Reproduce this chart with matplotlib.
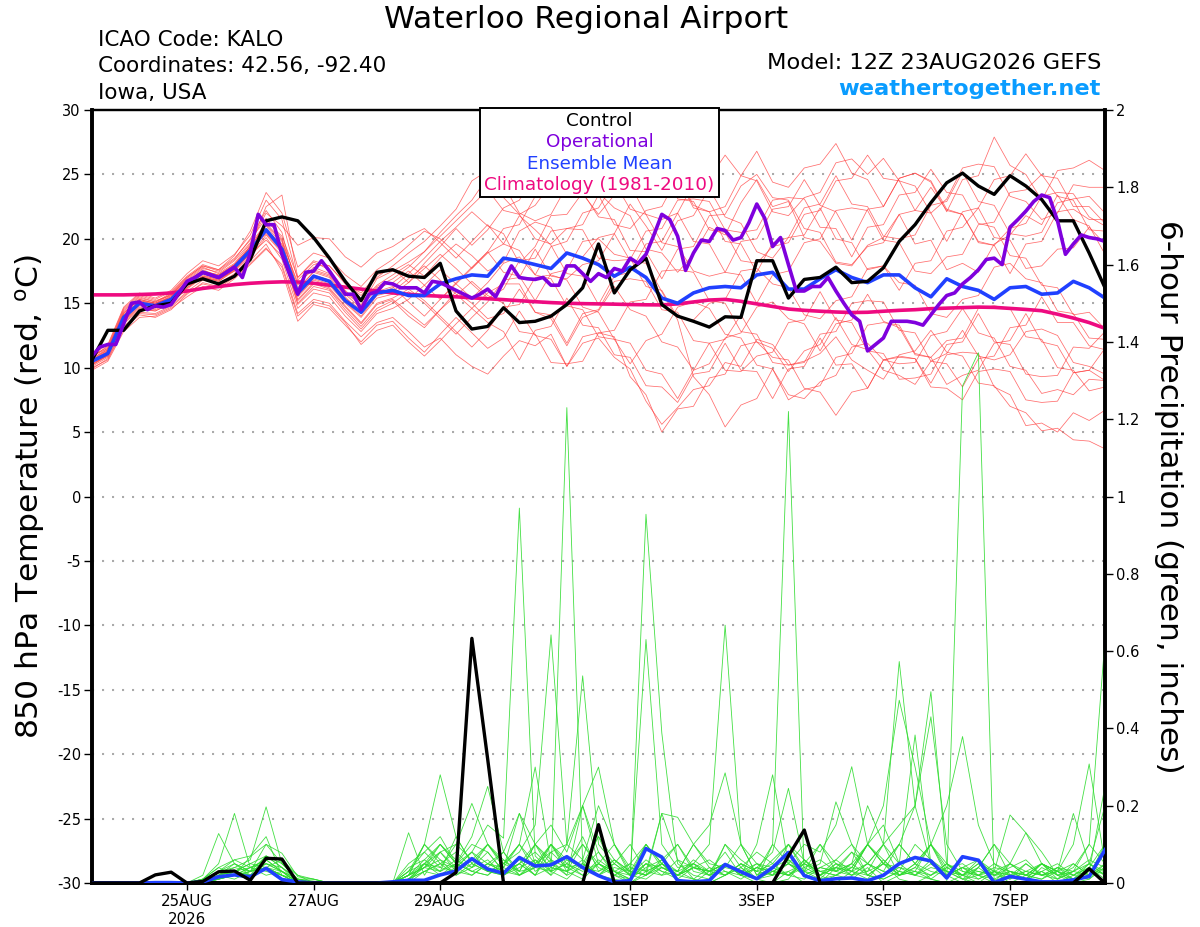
import numpy as np
import pandas as pd
import matplotlib
matplotlib.use("Agg")
import matplotlib.pyplot as plt
import matplotlib.dates as mdates
from matplotlib.patches import Rectangle

plt.rcParams['font.family'] = ['DejaVu Sans']
plt.rcParams['axes.unicode_minus'] = False

START = '2026-08-23 12:00'
END = '2026-09-08 12:00'

# ---------------- temperature (850 hPa, deg C), 6-hourly ----------------
control_temp = [10.6, 12.9, 12.9, 14.4, 14.8, 15.0, 16.5, 16.9, 16.5, 17.1, 18.4, 21.4, 21.7,
                21.4, 20.1, 18.5, 16.7, 15.2, 17.4, 17.6, 17.1, 17.0, 18.1, 14.4, 13.0, 13.2,
                14.65, 13.5, 13.6, 14.0, 14.9, 16.2, 19.6, 15.8, 17.6, 18.5, 14.9, 14.0, 13.6,
                13.15, 13.95, 13.9, 18.3, 18.3, 15.4, 16.85, 17.0, 17.8, 16.6, 16.7, 17.75, 19.8,
                21.1, 22.8, 24.35, 25.1, 24.1, 23.45, 24.9, 24.1, 23.05, 21.4, 21.4, 18.9, 16.2]

mean_temp = [10.5, 11.1, 13.9, 15.0, 14.8, 15.3, 16.5, 17.4, 17.0, 17.8, 19.1, 20.7, 19.2,
             15.8, 17.1, 16.7, 15.2, 14.3, 15.8, 16.0, 15.6, 15.6, 16.5, 16.9, 17.2, 17.1,
             18.5, 18.3, 18.0, 17.7, 18.9, 18.5, 18.0, 17.1, 17.8, 17.0, 15.4, 15.0, 15.8,
             16.2, 16.3, 16.2, 17.2, 17.4, 16.1, 16.1, 16.9, 17.6, 17.0, 16.6, 17.2, 17.2,
             16.2, 15.5, 16.9, 16.3, 16.0, 15.3, 16.2, 16.3, 15.7, 15.8, 16.7, 16.2, 15.4]

climo_temp = [15.65, 15.65, 15.65, 15.68, 15.72, 15.8, 15.95, 16.15, 16.3, 16.45, 16.55, 16.62, 16.66,
              16.65, 16.55, 16.4, 16.25, 16.1, 15.95, 15.8, 15.7, 15.6, 15.55, 15.5, 15.42, 15.35,
              15.28, 15.2, 15.12, 15.05, 15.0, 14.97, 14.95, 14.93, 14.9, 14.88, 14.87, 14.95, 15.1,
              15.25, 15.3, 15.15, 14.95, 14.75, 14.55, 14.45, 14.38, 14.32, 14.28, 14.3, 14.38, 14.45,
              14.5, 14.58, 14.62, 14.66, 14.7, 14.68, 14.6, 14.52, 14.42, 14.15, 13.85, 13.5, 13.05]

# operational run, 3-hourly
op_temp = [10.9, 11.6, 11.8, 11.8, 13.4, 15.0, 15.1, 14.5,
           14.8, 14.7, 14.9, 15.8, 16.7, 17.0, 17.4, 17.2,
           17.0, 17.4, 17.8, 17.0, 18.9, 21.9, 21.1, 21.1,
           18.8, 17.2, 15.7, 17.4, 17.5, 18.3, 17.5, 16.6,
           15.7, 15.7, 14.5, 15.7, 15.9, 16.6, 16.5, 16.2,
           16.2, 16.2, 15.8, 16.7, 16.6, 16.3, 16.0, 15.7,
           15.4, 15.7, 16.1, 15.5, 16.7, 17.9, 17.0, 16.9,
           16.85, 17.0, 16.4, 16.4, 17.9, 17.9, 17.3, 16.7,
           17.3, 17.0, 17.7, 17.5, 18.5, 18.1, 18.8, 20.3,
           21.9, 21.5, 20.2, 17.55, 18.9, 19.9, 19.8, 20.8,
           20.65, 19.9, 20.1, 21.25, 22.7, 21.6, 19.4, 20.1,
           18.0, 15.95, 15.95, 16.3, 16.3, 17.0, 15.95, 15.0,
           14.1, 13.6, 11.3, 11.8, 12.3, 13.6, 13.6, 13.6,
           13.5, 13.3, 14.1, 14.9, 15.6, 15.8, 16.5, 17.0,
           17.6, 18.4, 18.5, 18.0, 20.9, 21.5, 22.15, 22.9,
           23.4, 23.2, 21.4, 18.8, 19.6, 20.3, 20.1, 20.0,
           19.8]

# ensemble members (temperature)
t_m01 = [10.2, 11.0, 13.5, 14.6, 14.4, 15.0, 16.2, 17.0, 16.8, 17.6, 19.5, 22.5, 23.4,
         17.0, 18.2, 17.6, 16.0, 14.8, 16.9, 17.5, 18.2, 19.0, 20.5, 21.8, 23.0, 24.8,
         23.2, 21.9, 22.6, 24.3, 25.1, 26.3, 23.6, 22.4, 21.8, 19.2, 18.9, 17.4, 18.8,
         20.9, 20.3, 22.8, 24.6, 22.5, 22.9, 20.1, 19.8, 18.1, 17.9, 19.5, 20.1, 21.9,
         19.6, 19.9, 17.6, 18.1, 17.4, 19.6, 20.3, 21.8, 21.1, 23.4, 21.5, 21.0, 18.8]
t_m02 = [9.8, 10.5, 12.8, 13.9, 14.0, 14.6, 15.5, 16.3, 16.0, 16.9, 18.0, 19.2, 18.0,
         14.2, 15.3, 15.0, 13.6, 12.4, 13.5, 13.9, 12.8, 11.6, 12.3, 11.0, 10.1, 9.5,
         10.9, 12.1, 11.7, 12.6, 10.1, 11.9, 12.3, 10.8, 9.9, 7.4, 5.6, 6.9, 8.3,
         8.6, 10.4, 10.1, 12.2, 11.8, 10.2, 10.5, 11.1, 12.4, 10.6, 9.8, 9.1, 11.0,
         11.3, 12.9, 11.2, 10.9, 8.8, 8.6, 7.0, 6.5, 5.1, 5.3, 4.4, 4.3, 3.7]
t_m03 = [10.6, 11.4, 14.2, 15.4, 15.1, 15.8, 17.0, 17.9, 17.6, 18.5, 19.9, 21.6, 20.0,
         16.4, 17.8, 17.3, 15.9, 15.1, 16.4, 17.2, 18.0, 17.1, 18.5, 19.6, 18.7, 17.5,
         18.2, 20.6, 21.3, 20.9, 18.8, 18.6, 20.1, 20.4, 22.7, 21.0, 19.1, 21.4, 21.8,
         23.9, 21.7, 21.2, 19.0, 18.5, 20.1, 20.3, 22.4, 20.0, 19.7, 17.6, 17.9, 16.0,
         18.1, 18.3, 20.6, 20.9, 22.4, 20.1, 19.9, 17.7, 17.9, 19.2, 19.3, 20.9, 19.6]
t_m04 = [10.9, 11.6, 14.5, 15.6, 15.2, 15.6, 16.9, 17.8, 17.3, 18.1, 19.6, 21.2, 19.9,
         15.5, 16.8, 16.4, 15.0, 13.9, 15.4, 15.7, 16.6, 18.1, 19.4, 20.8, 19.5, 20.7,
         22.4, 23.0, 25.2, 26.5, 24.1, 23.5, 21.9, 23.4, 24.0, 26.2, 25.6, 24.9, 22.6,
         22.1, 22.5, 24.9, 26.8, 24.4, 24.0, 25.5, 25.8, 27.4, 25.1, 24.6, 22.5, 24.7,
         25.1, 24.4, 22.1, 24.6, 24.9, 27.9, 25.7, 25.0, 23.0, 25.3, 25.5, 26.1, 25.3]
t_m05 = [10.4, 11.2, 13.8, 15.1, 14.9, 15.5, 16.6, 17.5, 17.2, 18.0, 19.3, 20.4, 19.0,
         15.0, 16.3, 16.0, 14.5, 13.2, 14.6, 15.2, 14.0, 13.1, 14.5, 15.9, 15.0, 13.8,
         14.2, 16.1, 14.3, 13.8, 11.7, 13.9, 14.4, 16.3, 14.5, 14.0, 12.0, 11.6, 9.8,
         11.9, 12.2, 14.1, 12.0, 11.5, 9.7, 11.3, 11.8, 13.9, 11.8, 11.4, 9.8, 9.4,
         8.7, 10.5, 11.1, 12.9, 10.9, 10.6, 11.0, 12.8, 13.0, 12.5, 10.4, 10.1, 9.5]
t_m06 = [10.1, 10.8, 13.2, 14.3, 14.2, 14.8, 15.9, 16.8, 16.5, 17.3, 18.6, 20.1, 18.4,
         14.6, 15.8, 15.5, 14.0, 12.8, 14.2, 14.6, 15.3, 16.4, 17.6, 16.5, 15.4, 16.6,
         18.1, 18.6, 17.2, 16.9, 14.8, 14.5, 12.4, 12.2, 10.3, 12.1, 12.6, 14.7, 15.1,
         14.6, 12.6, 12.3, 10.2, 9.9, 7.9, 7.6, 8.9, 9.4, 11.6, 11.9, 10.6, 10.3,
         10.4, 12.5, 12.8, 14.6, 12.7, 12.3, 10.1, 9.8, 8.0, 8.3, 7.9, 9.1, 9.0]
t_m07 = [10.7, 11.5, 14.3, 15.3, 15.0, 15.7, 16.8, 17.7, 17.4, 18.3, 19.7, 22.0, 21.0,
         19.5, 20.1, 20.0, 18.6, 17.8, 18.9, 19.4, 20.2, 20.8, 19.7, 18.5, 19.8, 21.1,
         19.6, 19.1, 17.2, 19.4, 19.8, 22.0, 22.4, 24.4, 22.3, 21.9, 19.7, 19.4, 17.5,
         17.1, 17.4, 19.8, 20.0, 22.3, 22.5, 24.6, 22.6, 22.1, 19.9, 22.3, 22.5, 24.7,
         25.1, 24.5, 22.3, 21.9, 19.8, 19.5, 20.8, 21.2, 23.3, 23.6, 23.5, 21.7, 21.0]
t_m08 = [10.3, 10.9, 13.6, 14.8, 14.6, 15.2, 16.3, 17.1, 16.9, 17.7, 18.8, 19.9, 18.7,
         15.3, 16.6, 16.2, 14.8, 13.5, 15.0, 15.4, 16.1, 15.2, 14.0, 12.8, 11.6, 12.9,
         14.7, 14.9, 17.0, 17.2, 16.8, 14.7, 14.3, 12.2, 11.9, 9.8, 9.5, 7.6, 9.8,
         10.3, 12.3, 12.7, 14.7, 15.1, 13.8, 13.4, 11.3, 13.4, 13.7, 15.7, 13.6, 13.1,
         11.0, 10.8, 8.7, 9.4, 9.8, 11.9, 12.1, 14.2, 12.0, 11.7, 9.6, 9.8, 9.0]
t_m09 = [11.0, 11.8, 14.7, 15.8, 15.4, 16.0, 17.3, 18.3, 17.9, 18.8, 20.3, 23.0, 21.5,
         16.8, 18.0, 17.9, 16.6, 15.6, 17.0, 17.9, 18.9, 19.8, 21.0, 22.3, 24.5, 25.3,
         24.2, 22.0, 21.4, 21.9, 24.1, 24.6, 26.4, 24.7, 24.2, 21.9, 21.5, 22.0, 24.3,
         24.7, 26.5, 24.9, 24.5, 22.1, 21.8, 23.2, 23.6, 25.9, 26.2, 25.0, 26.25, 24.5,
         24.1, 22.0, 23.1, 25.5, 25.8, 25.6, 23.3, 22.9, 21.5, 22.0, 24.2, 24.0, 24.0]
t_m10 = [10.5, 11.3, 14.0, 15.2, 15.0, 15.4, 16.5, 17.3, 16.9, 17.5, 18.9, 20.8, 19.5,
         16.0, 17.2, 16.8, 15.4, 14.5, 15.9, 16.3, 15.1, 14.0, 15.3, 16.6, 17.8, 19.0,
         17.4, 17.1, 15.2, 17.3, 17.6, 19.8, 20.0, 18.8, 18.5, 16.3, 16.0, 13.9, 13.7,
         15.0, 15.3, 17.5, 17.7, 16.5, 16.2, 14.1, 13.8, 15.2, 15.5, 17.7, 17.9, 16.6,
         16.4, 14.2, 13.9, 15.3, 15.6, 17.8, 18.1, 16.9, 16.6, 14.4, 14.2, 12.3, 12.2]
t_m11 = [10.0, 10.6, 13.0, 14.1, 13.9, 14.5, 15.7, 16.6, 16.3, 17.1, 18.3, 19.6, 17.5,
         13.6, 14.9, 14.6, 13.3, 12.0, 13.3, 13.6, 12.3, 11.2, 12.6, 13.9, 12.7, 11.5,
         12.3, 14.4, 12.5, 12.2, 10.1, 12.4, 12.7, 12.4, 9.3, 7.9, 5.0, 6.8, 7.0,
         9.2, 9.5, 11.7, 12.0, 10.8, 10.6, 8.4, 8.1, 6.3, 8.1, 8.4, 10.6, 10.9,
         10.7, 8.5, 8.4, 7.5, 9.7, 9.9, 9.7, 7.5, 7.3, 7.4, 9.6, 9.8, 11.5]
t_m12 = [10.8, 11.7, 14.6, 15.7, 15.3, 15.9, 17.1, 18.0, 17.6, 18.7, 20.6, 23.6, 22.0,
         17.8, 18.9, 18.5, 17.2, 16.3, 17.6, 18.4, 19.5, 20.6, 20.0, 18.9, 17.7, 19.0,
         20.8, 21.1, 23.3, 23.6, 25.5, 23.7, 23.4, 21.1, 20.8, 22.2, 22.5, 24.8, 22.4,
         22.1, 19.8, 19.6, 17.4, 19.7, 20.1, 22.4, 22.7, 24.9, 22.7, 22.5, 20.2, 20.0,
         20.3, 22.6, 22.9, 25.2, 22.9, 22.6, 20.4, 20.2, 20.5, 22.8, 23.1, 23.3, 22.0]
t_m13 = [10.4, 11.1, 13.7, 14.9, 14.7, 15.3, 16.4, 17.2, 16.8, 17.7, 19.0, 20.6, 19.3,
         15.6, 16.9, 16.5, 15.1, 14.0, 15.6, 15.9, 16.9, 17.9, 16.8, 15.7, 14.6, 15.8,
         16.5, 16.5, 14.3, 14.1, 11.9, 14.2, 14.5, 16.7, 16.9, 16.7, 14.5, 14.3, 12.1,
         11.9, 9.8, 9.7, 10.9, 11.2, 13.5, 13.7, 15.9, 13.7, 13.5, 11.3, 11.1, 9.1,
         9.2, 9.5, 11.8, 12.0, 14.2, 12.0, 11.8, 9.5, 9.3, 9.4, 11.6, 11.5, 12.8]
t_m14 = [10.6, 11.3, 14.1, 15.2, 14.9, 15.6, 16.7, 17.6, 17.1, 18.0, 19.4, 21.0, 19.6,
         16.2, 17.4, 17.0, 15.5, 14.2, 15.7, 16.2, 17.3, 18.5, 19.8, 20.9, 22.1, 21.0,
         20.4, 18.1, 19.4, 21.8, 21.9, 23.6, 21.7, 21.5, 19.1, 19.0, 16.9, 19.2, 19.4,
         21.8, 21.9, 24.1, 25.0, 23.2, 23.0, 20.8, 20.5, 18.2, 18.0, 19.4, 19.7, 21.9,
         22.2, 24.0, 22.2, 21.9, 19.7, 19.5, 17.3, 19.6, 19.8, 22.1, 22.3, 21.5, 21.5]
t_m15 = [10.2, 10.9, 13.4, 14.5, 14.4, 15.0, 16.1, 17.0, 16.7, 17.5, 18.7, 20.3, 18.9,
         14.9, 16.1, 15.8, 14.3, 13.0, 14.4, 15.0, 15.9, 15.0, 13.8, 12.6, 13.9, 15.1,
         16.8, 17.0, 19.2, 17.1, 16.9, 18.0, 18.3, 20.4, 18.3, 18.1, 15.9, 13.7, 9.3,
         7.9, 5.4, 7.1, 7.6, 9.9, 7.5, 8.3, 8.6, 10.8, 11.1, 13.3, 13.5, 13.3,
         11.1, 10.8, 12.1, 12.3, 14.6, 14.8, 14.6, 12.4, 12.2, 10.0, 9.8, 8.2, 8.5]
t_m16 = [10.9, 11.5, 14.4, 15.5, 15.1, 15.7, 17.0, 17.9, 17.5, 18.4, 20.0, 22.2, 20.5,
         15.9, 17.5, 17.1, 15.7, 14.6, 16.2, 16.6, 17.5, 16.4, 15.3, 16.5, 17.7, 18.9,
         19.6, 21.8, 20.7, 19.5, 17.3, 17.1, 14.9, 17.1, 17.4, 19.6, 19.8, 22.0, 19.8,
         19.6, 17.4, 17.2, 15.0, 17.2, 17.5, 19.7, 20.0, 22.2, 22.4, 22.2, 19.9, 19.7,
         17.5, 17.3, 18.6, 18.8, 21.1, 21.3, 23.6, 23.8, 25.0, 23.3, 23.0, 20.7, 20.6]
t_m17 = [9.9, 10.7, 13.1, 14.2, 14.1, 14.7, 15.8, 16.5, 16.2, 17.0, 18.1, 19.3, 17.8,
         14.0, 15.1, 14.8, 13.5, 11.8, 12.9, 13.3, 12.0, 10.9, 12.1, 13.4, 14.6, 13.5,
         12.8, 10.6, 12.9, 13.2, 15.4, 13.3, 13.1, 11.0, 10.8, 8.6, 8.5, 7.3, 9.5,
         9.7, 11.9, 9.8, 9.7, 7.6, 9.9, 10.1, 12.3, 10.2, 10.3, 8.4, 10.6, 10.8,
         10.7, 8.8, 11.0, 11.2, 11.1, 8.5, 7.9, 5.5, 5.7, 5.0, 6.5, 5.9, 6.7]
t_m18 = [10.5, 11.2, 13.9, 15.0, 14.8, 15.3, 16.4, 17.3, 17.0, 17.9, 19.2, 21.4, 20.2,
         17.0, 18.3, 17.9, 16.5, 15.8, 17.2, 17.7, 16.6, 17.7, 18.8, 17.7, 16.5, 15.4,
         16.1, 18.3, 18.5, 20.6, 20.8, 20.7, 18.5, 18.3, 18.4, 20.6, 20.8, 23.0, 23.1,
         22.9, 20.7, 20.5, 20.7, 23.0, 23.2, 23.1, 20.9, 20.8, 18.6, 20.9, 21.1, 23.4,
         23.6, 25.4, 23.6, 23.4, 21.2, 20.9, 18.7, 18.5, 16.4, 16.2, 14.1, 14.3, 13.0]
t_m19 = [10.3, 11.0, 13.6, 14.7, 14.5, 15.1, 16.2, 17.1, 16.7, 17.6, 18.9, 20.5, 19.1,
         15.2, 16.5, 16.1, 14.7, 13.4, 14.9, 15.3, 14.3, 13.3, 14.5, 15.6, 16.7, 15.6,
         15.0, 12.8, 12.6, 10.4, 10.3, 10.5, 12.7, 12.9, 15.1, 15.3, 17.5, 17.6, 17.4,
         15.2, 15.0, 12.8, 12.6, 10.4, 10.2, 10.4, 12.6, 12.8, 15.0, 15.2, 15.1, 12.9,
         12.7, 10.5, 10.3, 8.5, 10.7, 10.9, 13.1, 13.3, 15.5, 13.5, 13.5, 11.7, 11.4]
t_m20 = [10.7, 11.4, 14.2, 15.3, 15.0, 15.5, 16.7, 17.5, 17.2, 18.0, 19.4, 21.1, 19.8,
         16.6, 17.6, 17.2, 15.8, 14.9, 16.3, 16.9, 17.8, 19.0, 20.2, 21.4, 22.6, 23.8,
         22.2, 21.9, 20.0, 19.6, 20.8, 21.1, 23.4, 23.6, 25.9, 25.6, 26.1, 23.1, 22.9,
         20.7, 20.5, 18.3, 18.1, 19.4, 19.7, 21.9, 22.2, 24.5, 24.7, 26.5, 24.7, 24.5,
         22.2, 22.0, 19.8, 22.1, 22.4, 24.6, 24.9, 26.6, 24.9, 24.7, 22.5, 22.5, 21.2]
temp_members = [t_m01, t_m02, t_m03, t_m04, t_m05, t_m06, t_m07, t_m08, t_m09, t_m10,
                t_m11, t_m12, t_m13, t_m14, t_m15, t_m16, t_m17, t_m18, t_m19, t_m20]

# ---------------- 6-hour precipitation (inches) ----------------
control_prcp = [0, 0, 0, 0, 0.021, 0.028, 0, 0.004, 0.029, 0.031, 0.007, 0.064, 0.062,
                0, 0, 0, 0, 0, 0, 0, 0, 0, 0, 0.027, 0.633, 0.32,
                0, 0, 0, 0, 0, 0, 0.151, 0, 0, 0, 0, 0, 0,
                0, 0, 0, 0, 0, 0.07, 0.137, 0, 0, 0, 0, 0, 0,
                0, 0, 0, 0, 0, 0, 0, 0, 0, 0, 0, 0.037, 0]
mean_prcp = [0, 0, 0, 0, 0.001, 0.001, 0, 0.003, 0.016, 0.021, 0.016, 0.038, 0.009,
             0.003, 0, 0, 0, 0, 0, 0.003, 0.007, 0.007, 0.021, 0.031, 0.063, 0.036,
             0.025, 0.066, 0.044, 0.047, 0.068, 0.04, 0.019, 0.003, 0.006, 0.089, 0.067, 0.006, 0.003,
             0.006, 0.048, 0.029, 0.011, 0.040, 0.079, 0.019, 0.006, 0.011, 0.013, 0.006, 0.02, 0.05,
             0.066, 0.057, 0.013, 0.068, 0.059, 0.001, 0.017, 0.01, 0.003, 0.003, 0.008, 0.017, 0.086]

p_m01 = [0, 0, 0, 0, 0, 0, 0, 0, 0.01, 0.02, 0.01, 0.04, 0.02,
         0, 0, 0, 0, 0, 0, 0, 0.01, 0.03, 0.02, 0.05, 0.08, 0.03,
         0.02, 0.04, 0.06, 0.02, 1.23, 0.05, 0.02, 0.01, 0, 0.03, 0.18, 0.06, 0.01,
         0, 0.02, 0.05, 0.01, 0, 0.03, 0, 0, 0.02, 0.01, 0.04, 0, 0.02,
         0.05, 0.01, 0, 0.02, 0, 0, 0.03, 0.01, 0, 0, 0.02, 0.04, 0.01]
p_m02 = [0, 0, 0, 0, 0, 0, 0, 0.01, 0.03, 0.05, 0.02, 0.07, 0.04,
         0.01, 0, 0, 0, 0, 0, 0, 0.02, 0.1, 0.06, 0.04, 0.08, 0.15,
         0.116, 0.97, 0.07, 0.03, 0.01, 0.05, 0.12, 0.03, 0, 0.02, 0.05, 0.01, 0,
         0.03, 0.08, 0.02, 0, 0, 0.01, 0.06, 0.02, 0, 0.03, 0.1, 0.05, 0.01,
         0, 0.02, 0.05, 0.01, 0, 0.03, 0, 0, 0.04, 0.02, 0, 0.01, 0.05]
p_m03 = [0, 0, 0, 0, 0, 0, 0, 0, 0.02, 0.04, 0.03, 0.1, 0.05,
         0.02, 0.01, 0, 0, 0, 0, 0, 0.03, 0.08, 0.12, 0.05, 0.03, 0.02,
         0.06, 0.03, 0.04, 0.1, 0.03, 0.01, 0.05, 0.02, 0, 0.954, 0.388, 0.05, 0.02,
         0.01, 0.1, 0.04, 0.01, 0.02, 0.06, 0.02, 0, 0.04, 0.08, 0.02, 0.01, 0.03,
         0.1, 0.06, 0.02, 0, 0.04, 0.01, 0, 0.02, 0.05, 0.01, 0.03, 0.02, 0.08]
p_m04 = [0, 0, 0, 0, 0, 0, 0, 0.005, 0.03, 0.06, 0.04, 0.05, 0.03,
         0.01, 0.005, 0, 0, 0, 0, 0, 0.02, 0.05, 0.04, 0.1, 0.06, 0.04,
         0.08, 0.03, 0.1, 0.05, 0.02, 0.2, 0.08, 0.02, 0.01, 0.05, 0.02, 0.03, 0.01,
         0, 0.02, 0.04, 0.01, 0.1, 1.22, 0.02, 0.01, 0.05, 0.03, 0.01, 0.06, 0.02,
         0.04, 0.1, 0.03, 0.01, 0.02, 0, 0.05, 0.02, 0.01, 0.03, 0, 0.02, 0.1]
p_m05 = [0, 0, 0, 0, 0, 0, 0, 0, 0.02, 0.03, 0.05, 0.04, 0.02,
         0, 0, 0, 0, 0, 0, 0, 0.01, 0.04, 0.08, 0.03, 0.02, 0.05,
         0.03, 0.06, 0.02, 0.08, 0.04, 0.12, 0.03, 0.06, 0.02, 0.01, 0.04, 0.02, 0.05,
         0.02, 0.03, 0.01, 0.04, 0.02, 0.05, 0.03, 0.01, 0.02, 0.04, 0.1, 0.06, 0.02,
         0.03, 0.01, 0, 1.286, 1.372, 0, 0.02, 0.01, 0.03, 0, 0.01, 0.04, 0.02]
p_m06 = [0, 0, 0, 0, 0, 0, 0, 0.01, 0.04, 0.02, 0.068, 0.1, 0.077,
         0.016, 0.01, 0, 0, 0, 0, 0, 0.02, 0.06, 0.03, 0.12, 0.05, 0.1,
         0.04, 0.18, 0.1, 0.15, 0.08, 0.2, 0.3, 0.1, 0.03, 0.02, 0.18, 0.17, 0.1,
         0.05, 0.04, 0.1, 0.02, 0.06, 0.1, 0.03, 0.05, 0.21, 0.1, 0.02, 0.05, 0.1,
         0.05, 0.1, 0.02, 0.04, 0.01, 0.03, 0.05, 0.13, 0.08, 0.02, 0.01, 0.03, 0.25]
p_m07 = [0, 0, 0, 0, 0, 0, 0, 0, 0.01, 0.02, 0.03, 0.07, 0.05,
         0.01, 0, 0, 0, 0, 0, 0, 0.05, 0.08, 0.04, 0.03, 0.06, 0.1,
         0.05, 0.08, 0.15, 0.642, 0.1, 0.2, 0.05, 0.03, 0.02, 0.06, 0.03, 0.01, 0.04,
         0.03, 0.05, 0.02, 0.01, 0.03, 0.02, 0.06, 0.03, 0.02, 0.05, 0.02, 0.01, 0.03,
         0.02, 0.01, 0.04, 0.02, 0.01, 0.03, 0.02, 0.01, 0.05, 0.02, 0.03, 0.1, 0.63]
p_m08 = [0, 0, 0, 0, 0, 0, 0, 0, 0.02, 0.05, 0.03, 0.04, 0.06,
         0.02, 0, 0, 0, 0, 0, 0, 0.03, 0.1, 0.05, 0.02, 0.04, 0.08,
         0.03, 0.02, 0.05, 0.08, 0.1, 0.06, 0.2, 0.1, 0.02, 0.63, 0.1, 0.04, 0.05,
         0.1, 0.667, 0.1, 0.02, 0.04, 0.06, 0.03, 0.1, 0.05, 0.02, 0.03, 0.1, 0.05,
         0.02, 0.06, 0.03, 0.01, 0.04, 0.1, 0.02, 0.01, 0.03, 0.05, 0.02, 0.01, 0.04]
p_m09 = [0, 0, 0, 0, 0, 0, 0, 0.02, 0.128, 0.05, 0.03, 0.04, 0.02,
         0.01, 0, 0, 0, 0, 0, 0, 0.01, 0.05, 0.1, 0.06, 0.03, 0.05,
         0.08, 0.02, 0.04, 0.03, 0.1, 0.536, 0.1, 0.05, 0.02, 0.1, 0.04, 0.02, 0.01,
         0.04, 0.02, 0.05, 0.03, 0.1, 0.05, 0.02, 0.04, 0.03, 0.08, 0.05, 0.1, 0.02,
         0.03, 0.1, 0.05, 0.02, 0.03, 0.02, 0.04, 0.06, 0.02, 0.03, 0.01, 0.05, 0.2]
p_m10 = [0, 0, 0, 0, 0, 0, 0, 0.01, 0.05, 0.18, 0.04, 0.06, 0.03,
         0, 0, 0, 0, 0, 0, 0, 0.02, 0.04, 0.06, 0.02, 0.05, 0.03,
         0.04, 0.1, 0.05, 0.02, 0.06, 0.04, 0.12, 0.06, 0.03, 0.02, 0.05, 0.1, 0.04,
         0.02, 0.1, 0.06, 0.03, 0.05, 0.02, 0.01, 0.04, 0.06, 0.1, 0.05, 0.1, 0.573,
         0.2, 0.05, 0.02, 0.04, 0.06, 0.02, 0.01, 0.03, 0.05, 0.02, 0.04, 0.1, 0.05]
p_m11 = [0, 0, 0, 0, 0, 0, 0, 0, 0.03, 0.04, 0.06, 0.197, 0.05,
         0.01, 0, 0, 0, 0, 0, 0, 0.04, 0.06, 0.1, 0.05, 0.03, 0.02,
         0.05, 0.03, 0.1, 0.06, 0.02, 0.04, 0.08, 0.03, 0.01, 0.05, 0.04, 0.02, 0.06,
         0.03, 0.02, 0.04, 0.08, 0.05, 0.1, 0.04, 0.02, 0.06, 0.03, 0.1, 0.05, 0.1,
         0.2, 0.495, 0.05, 0.02, 0.04, 0.1, 0.05, 0.02, 0.03, 0.01, 0.05, 0.02, 0.08]
p_m12 = [0, 0, 0, 0, 0, 0, 0, 0.01, 0.04, 0.06, 0.07, 0.12, 0.02,
         0, 0, 0, 0, 0, 0, 0, 0, 0.05, 0.03, 0.06, 0.04, 0.1,
         0.06, 0.02, 0.04, 0.1, 0.05, 0.03, 0.05, 0.1, 0.04, 0.02, 0.06, 0.03, 0.1,
         0.04, 0.02, 0.05, 0.03, 0.02, 0.1, 0.06, 0.02, 0.05, 0.04, 0.1, 0.2, 0.473,
         0.3, 0.1, 0.04, 0.02, 0.06, 0.03, 0.02, 0.05, 0.02, 0.01, 0.03, 0.06, 0.04]
p_m13 = [0, 0, 0, 0, 0, 0, 0, 0, 0.01, 0.03, 0.02, 0.04, 0.03,
         0, 0, 0, 0, 0, 0, 0, 0.13, 0.02, 0.08, 0.04, 0.06, 0.03,
         0.05, 0.1, 0.03, 0.06, 0.04, 0.02, 0.05, 0.03, 0.01, 0.04, 0.06, 0.1, 0.03,
         0.02, 0.05, 0.03, 0.01, 0.03, 0.05, 0.02, 0.04, 0.03, 0.05, 0.1, 0.15, 0.05,
         0.383, 0.05, 0.02, 0.04, 0.02, 0.01, 0.03, 0.02, 0.05, 0.03, 0.01, 0.02, 0.05]
p_m14 = [0, 0, 0, 0, 0, 0, 0, 0, 0.02, 0.01, 0.03, 0.05, 0.04,
         0, 0, 0, 0, 0, 0, 0, 0.01, 0.03, 0.05, 0.08, 0.04, 0.06,
         0.02, 0.05, 0.08, 0.04, 0.03, 0.06, 0.02, 0.05, 0.1, 0.03, 0.05, 0.02, 0.04,
         0.06, 0.03, 0.02, 0.05, 0.04, 0.02, 0.05, 0.1, 0.03, 0.05, 0.2, 0.1, 0.15,
         0.2, 0.43, 0.1, 0.03, 0.02, 0.05, 0.03, 0.02, 0.01, 0.04, 0.02, 0.05, 0.03]
p_m15 = [0, 0, 0, 0, 0, 0, 0, 0, 0.01, 0.02, 0.04, 0.03, 0.02,
         0, 0, 0, 0, 0, 0, 0, 0.02, 0.04, 0.03, 0.05, 0.1, 0.08,
         0.03, 0.05, 0.02, 0.1, 0.06, 0.04, 0.03, 0.05, 0.02, 0.05, 0.03, 0.02, 0.05,
         0.03, 0.05, 0.02, 0.04, 0.03, 0.02, 0.04, 0.06, 0.03, 0.02, 0.05, 0.03, 0.1,
         0.05, 0.1, 0.2, 0.379, 0.15, 0.05, 0.02, 0.03, 0.02, 0.04, 0.01, 0.02, 0.03]
p_m16 = [0, 0, 0, 0, 0, 0, 0, 0, 0.02, 0.03, 0.05, 0.07, 0.04,
         0.01, 0, 0, 0, 0, 0, 0, 0.03, 0.05, 0.02, 0.04, 0.08, 0.05,
         0.04, 0.02, 0.06, 0.03, 0.05, 0.1, 0.04, 0.02, 0.05, 0.03, 0.02, 0.06, 0.04,
         0.03, 0.05, 0.02, 0.04, 0.03, 0.05, 0.1, 0.08, 0.15, 0.301, 0.1, 0.05, 0.04,
         0.02, 0.05, 0.03, 0.02, 0.05, 0.02, 0.03, 0.01, 0.05, 0.03, 0.1, 0.308, 0.05]
p_m17 = [0, 0, 0, 0, 0, 0, 0, 0, 0.02, 0.03, 0.02, 0.05, 0.03,
         0, 0, 0, 0, 0, 0, 0, 0.02, 0.1, 0.28, 0.12, 0.05, 0.03,
         0.02, 0.05, 0.1, 0.03, 0.05, 0.02, 0.06, 0.03, 0.05, 0.1, 0.05, 0.03, 0.1,
         0.15, 0.285, 0.1, 0.05, 0.03, 0.02, 0.05, 0.03, 0.02, 0.04, 0.03, 0.05, 0.02,
         0.04, 0.02, 0.05, 0.03, 0.02, 0.04, 0.03, 0.02, 0.05, 0.03, 0.02, 0.04, 0.1]
p_m18 = [0, 0, 0, 0, 0, 0, 0, 0, 0.01, 0.02, 0.03, 0.04, 0.02,
         0, 0, 0, 0, 0, 0, 0, 0.01, 0.05, 0.08, 0.1, 0.206, 0.1,
         0.05, 0.1, 0.3, 0.05, 0.03, 0.1, 0.05, 0.02, 0.04, 0.03, 0.05, 0.02, 0.04,
         0.03, 0.05, 0.02, 0.1, 0.28, 0.05, 0.03, 0.02, 0.04, 0.03, 0.05, 0.02, 0.04,
         0.03, 0.02, 0.04, 0.05, 0.02, 0.03, 0.01, 0.05, 0.02, 0.03, 0.05, 0.02, 0.04]
p_m19 = [0, 0, 0, 0, 0, 0, 0, 0, 0.03, 0.02, 0.04, 0.06, 0.03,
         0.01, 0.01, 0, 0, 0, 0, 0, 0.02, 0.04, 0.1, 0.05, 0.12, 0.25,
         0.08, 0.18, 0.05, 0.1, 0.04, 0.05, 0.02, 0.06, 0.03, 0.1, 0.05, 0.02, 0.04,
         0.03, 0.05, 0.02, 0.04, 0.08, 0.245, 0.05, 0.03, 0.04, 0.02, 0.05, 0.03, 0.02,
         0.05, 0.03, 0.02, 0.04, 0.03, 0.02, 0.05, 0.03, 0.02, 0.04, 0.03, 0.05, 0.02]
p_m20 = [0, 0, 0, 0, 0, 0, 0, 0, 0.02, 0.03, 0.04, 0.02, 0.03,
         0, 0, 0, 0, 0, 0, 0, 0, 0.03, 0.05, 0.04, 0.02, 0.05,
         0.03, 0.05, 0.02, 0.04, 0.03, 0.05, 0.02, 0.04, 0.03, 0.02, 0.04, 0.03, 0.05,
         0.02, 0.04, 0.03, 0.05, 0.02, 0.03, 0.05, 0.02, 0.04, 0.03, 0.02, 0.05, 0.03,
         0.02, 0.04, 0.03, 0.02, 0.05, 0.03, 0.176, 0.13, 0.05, 0.03, 0.18, 0.05, 0.02]
prcp_members = [p_m01, p_m02, p_m03, p_m04, p_m05, p_m06, p_m07, p_m08, p_m09, p_m10,
                p_m11, p_m12, p_m13, p_m14, p_m15, p_m16, p_m17, p_m18, p_m19, p_m20]

# axis ticks / labels
temp_ticks = [30, 25, 20, 15, 10, 5, 0, -5, -10, -15, -20, -25, -30]
prcp_ticks = [0, 0.2, 0.4, 0.6, 0.8, 1.0, 1.2, 1.4, 1.6, 1.8, 2.0]
prcp_tick_labels = ['0', '0.2', '0.4', '0.6', '0.8', '1', '1.2', '1.4', '1.6', '1.8', '2']
date_ticks = ['2026-08-25', '2026-08-27', '2026-08-29', '2026-09-01', '2026-09-03',
              '2026-09-05', '2026-09-07']
date_labels = ['25AUG\n2026', '27AUG', '29AUG', '1SEP', '3SEP', '5SEP', '7SEP']

# ---------------- drawing ----------------
times = mdates.date2num(pd.date_range(START, periods=len(control_temp), freq='6h').to_pydatetime())
op_times = mdates.date2num(pd.date_range(START, periods=len(op_temp), freq='3h').to_pydatetime())

W, H = 1200, 927
fig = plt.figure(figsize=(W / 100, H / 100), dpi=100)
L, R, T, B = 92, 1105, 110, 883
ax = fig.add_axes([L / W, 1 - B / H, (R - L) / W, (B - T) / H])
ax2 = ax.twinx()

RED = '#ff3c3c'
GREEN = '#2fdc2f'
BLACK = '#000000'
PURPLE = '#7f00dd'
BLUE = '#2040ff'
PINK = '#ee0a80'

for m in temp_members:
    ax.plot(times[:len(m)], m, color=RED, lw=0.55, alpha=0.75, zorder=2)
ax.plot(times, climo_temp, color=PINK, lw=2.6, zorder=4)
ax.plot(times, mean_temp, color=BLUE, lw=2.6, zorder=5)
ax.plot(times, control_temp, color=BLACK, lw=2.4, zorder=6)
ax.plot(op_times, op_temp, color=PURPLE, lw=2.6, zorder=7)

for m in prcp_members:
    ax2.plot(times[:len(m)], m, color=GREEN, lw=0.6, alpha=0.9, zorder=2)
ax2.plot(times, mean_prcp, color=BLUE, lw=2.6, zorder=5)
ax2.plot(times, control_prcp, color=BLACK, lw=2.4, zorder=6)

ax.set_xlim(mdates.date2num(pd.Timestamp(START).to_pydatetime()),
            mdates.date2num(pd.Timestamp(END).to_pydatetime()))
ax.set_ylim(-30, 30)
ax2.set_ylim(0, 2)

ax.set_yticks(temp_ticks)
ax.set_yticklabels([str(t) for t in temp_ticks])
ax2.set_yticks(prcp_ticks)
ax2.set_yticklabels(prcp_tick_labels)
ax.set_xticks(mdates.date2num(pd.to_datetime(date_ticks).to_pydatetime()))
ax.set_xticklabels(date_labels)

for a in (ax, ax2):
    a.spines['top'].set_linewidth(1.6)
    a.spines['left'].set_linewidth(2.6)
    a.spines['right'].set_linewidth(2.6)
    a.spines['bottom'].set_linewidth(2.8)
ax.tick_params(axis='y', direction='out', length=6, width=1, labelsize=10.5, pad=2)
ax2.tick_params(axis='y', direction='out', length=6, width=1, labelsize=10.5, pad=2)
ax.tick_params(axis='x', direction='out', length=5, width=1, labelsize=10.8, pad=3)
for lab in ax.get_xticklabels():
    lab.set_linespacing(1.25)

# dotted horizontal grid
for t in temp_ticks[1:-1]:
    ax.axhline(t, color='#aaaaaa', lw=1.5, linestyle=(0, (1, 3.8)), zorder=1)

ax.set_ylabel('850 hPa Temperature (red, $^{\\mathrm{o}}$C)', fontsize=22.6, labelpad=7)
ax2.set_ylabel('6-hour Precipitation (green, inches)', fontsize=22.5, rotation=-90, labelpad=31)

# legend box
lx0, lx1, ly0, ly1 = 480, 719, 108, 197
ax2.add_patch(Rectangle(((lx0 - L) / (R - L), 1 - (ly1 - T) / (B - T)),
                        (lx1 - lx0) / (R - L), (ly1 - ly0) / (B - T),
                        transform=ax2.transAxes, facecolor='white', edgecolor='black',
                        lw=1.4, zorder=20, clip_on=False))
legend_items = [('Control', BLACK), ('Operational', PURPLE), ('Ensemble Mean', BLUE),
                ('Climatology (1981-2010)', PINK)]
for k, (txt, col) in enumerate(legend_items):
    yy = 121 + k * 21.3
    ax2.text(((lx0 + lx1) / 2 - L) / (R - L), 1 - (yy - T) / (B - T), txt, color=col,
             transform=ax2.transAxes, ha='center', va='center', fontsize=13.2, zorder=21)

# header texts
fig.text(586 / W, 1 - 19 / H, 'Waterloo Regional Airport', ha='center', va='center', fontsize=22.6)
fig.text(98 / W, 1 - 40 / H, 'ICAO Code: KALO', ha='left', va='center', fontsize=15.5)
fig.text(98 / W, 1 - 66 / H, 'Coordinates: 42.56, -92.40', ha='left', va='center', fontsize=15.5)
fig.text(98 / W, 1 - 93 / H, 'Iowa, USA', ha='left', va='center', fontsize=15.5)
fig.text(1101 / W, 1 - 63 / H, 'Model: 12Z 23AUG2026 GEFS', ha='right', va='center', fontsize=16.2)
fig.text(1101 / W, 1 - 89 / H, 'weathertogether.net', ha='right', va='center', fontsize=16.2,
         fontweight='bold', color='#0a9cff')

fig.savefig('out.png', dpi=100)
